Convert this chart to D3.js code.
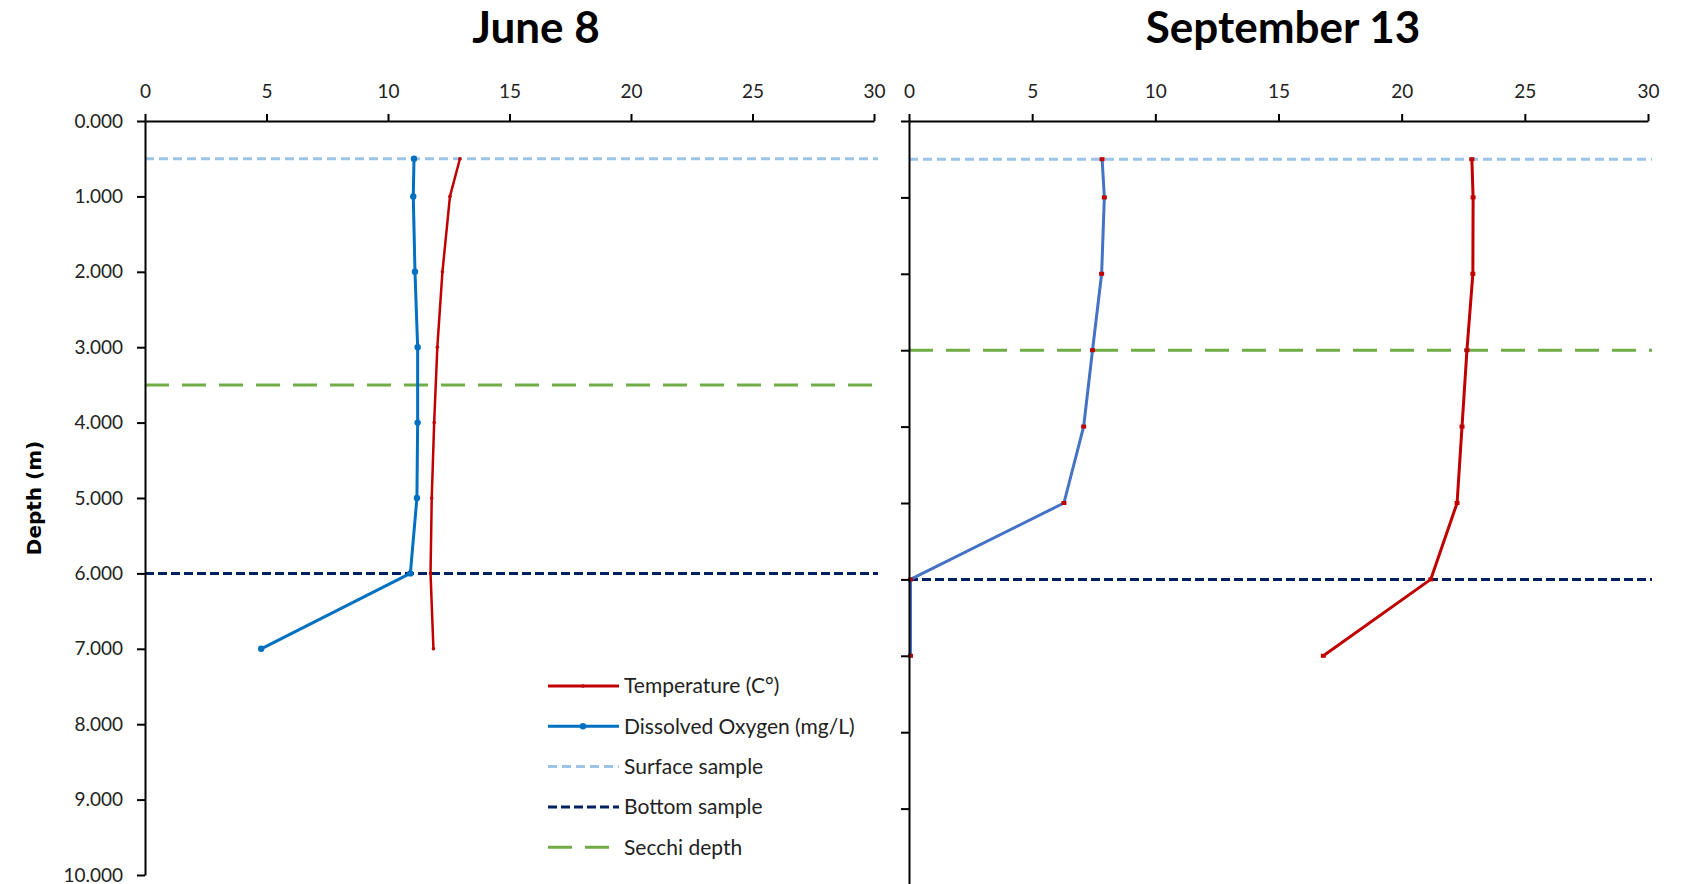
<!DOCTYPE html>
<meta charset="utf-8">
<body style="margin:0;background:#fff">
<script src="https://d3js.org/d3.v7.min.js"></script>
<script>

// depth of each sample (m)
var depths = [0.5, 1, 2, 3, 4, 5, 6, 7]

// June 8
var juneTemp = [12.96, 12.55, 12.24, 12.03, 11.9, 11.8, 11.75, 11.87]
var juneDO   = [11.07, 11.04, 11.11, 11.22, 11.22, 11.19, 10.92, 4.78]
var juneRefs = {surface: 0.5, bottom: 6.0, secchi: 3.5}

// September 13
var septTemp = [22.85, 22.9, 22.89, 22.65, 22.45, 22.25, 21.18, 16.82]
var septDO   = [7.84, 7.93, 7.82, 7.45, 7.09, 6.29, 0.06, 0.06]
var septRefs = {surface: 0.5, bottom: 6.0, secchi: 3.0}

var xTicks = [0, 5, 10, 15, 20, 25, 30]
var yTicks = [0, 1, 2, 3, 4, 5, 6, 7, 8, 9, 10]

var legendLabels = ['Temperature (C°)', 'Dissolved Oxygen (mg/L)', 'Surface sample', 'Bottom sample', 'Secchi depth']

var W = 1681, H = 884
var svg = d3.select('body').append('svg')
  .attr('width', W).attr('height', H)
  .style('display', 'block')

var refStyle = {
  surface: {c: '#9dc3e6', dash: '9,5'},
  bottom:  {c: '#002060', dash: '9,4'},
  secchi:  {c: '#70ad47', dash: '24,13'}
}

function panel(o) {
  var x = d3.scaleLinear().domain([0, 30]).range([o.x0, o.x1])
  var y = d3.scaleLinear().domain([0, 10]).range([121, o.yEnd])
  var g = svg.append('g')

  // title
  g.append('text')
    .attr('x', o.tx).attr('y', 43)
    .attr('text-anchor', 'middle')
    .attr('font-family', 'Lato').attr('font-weight', 'bold')
    .attr('font-size', 44)
    .text(o.title)

  // reference lines
  ;['surface', 'bottom', 'secchi'].forEach(k => {
    g.append('line')
      .attr('x1', x(0)).attr('x2', x(30) + 4)
      .attr('y1', y(o.refs[k])).attr('y2', y(o.refs[k]))
      .attr('stroke', refStyle[k].c)
      .attr('stroke-width', 3)
      .attr('stroke-dasharray', refStyle[k].dash)
  })

  var line = (vals) => d3.line().x((d, i) => x(vals[i])).y(d => y(d))(depths)

  // dissolved oxygen
  g.append('path').attr('d', line(o.DO))
    .attr('fill', 'none').attr('stroke', o.doColor)
    .attr('stroke-width', 3).attr('stroke-linejoin', 'round')
  // temperature
  g.append('path').attr('d', line(o.temp))
    .attr('fill', 'none').attr('stroke', '#c00000')
    .attr('stroke-width', o.tempW).attr('stroke-linejoin', 'round')

  if (o.squares) {
    [o.DO, o.temp].forEach(vals => {
      g.selectAll(null).data(depths).enter().append('rect')
        .attr('x', (d, i) => x(vals[i]) - 2.5).attr('y', d => y(d) - 2)
        .attr('width', 5).attr('height', 4)
        .attr('fill', '#c00000')
    })
  } else {
    g.selectAll(null).data(depths).enter().append('circle')
      .attr('cx', (d, i) => x(o.DO[i])).attr('cy', d => y(d))
      .attr('r', 3.2).attr('fill', o.doColor)
    g.selectAll(null).data(depths).enter().append('circle')
      .attr('cx', (d, i) => x(o.temp[i])).attr('cy', d => y(d))
      .attr('r', 1.8).attr('fill', '#c00000')
  }

  // axes
  var xa = g.append('g').attr('transform', `translate(0,${y(0)})`)
    .call(d3.axisTop(x).tickValues(xTicks).tickSize(7).tickSizeOuter(0).tickPadding(16))
  var ya = g.append('g').attr('transform', `translate(${x(0)},0)`)
    .call(d3.axisLeft(y).tickValues(yTicks).tickSize(8).tickSizeOuter(0).tickPadding(14)
      .tickFormat(o.yLabels ? d3.format('.3f') : ''))
  ;[xa, ya].forEach(a => {
    a.select('.domain').attr('stroke', '#000').attr('stroke-width', 2)
    a.selectAll('.tick line').attr('stroke', '#000').attr('stroke-width', 2)
    a.selectAll('.tick text')
      .attr('font-family', 'Lato').attr('font-size', 19).attr('fill', '#222')
  })
  return {x: x, y: y}
}

panel({
  title: 'June 8', tx: 536, x0: 145, x1: 874, yEnd: 875,
  temp: juneTemp, DO: juneDO, refs: juneRefs,
  doColor: '#0070c0', tempW: 2.5, squares: false, yLabels: true
})
panel({
  title: 'September 13', tx: 1283, x0: 909, x1: 1648, yEnd: 885,
  temp: septTemp, DO: septDO, refs: septRefs,
  doColor: '#4472c4', tempW: 3, squares: true, yLabels: false
})

// y axis title
svg.append('text')
  .attr('transform', 'translate(41,498) rotate(-90)')
  .attr('text-anchor', 'middle')
  .attr('font-family', 'DejaVu Sans').attr('font-weight', 'bold')
  .attr('font-size', 20)
  .text('Depth (m)')

// legend
var legendStyles = [
  {c: '#c00000', dash: null, dot: 1.8},
  {c: '#0070c0', dash: null, dot: 3.2},
  {c: '#9dc3e6', dash: '9,5'},
  {c: '#002060', dash: '9,4'},
  {c: '#70ad47', dash: '24,13'}
]
var lg = svg.append('g')
legendLabels.forEach((t, i) => {
  var ly = 686 + i * 40.3
  var s = legendStyles[i]
  lg.append('line')
    .attr('x1', 548).attr('x2', 619).attr('y1', ly).attr('y2', ly)
    .attr('stroke', s.c).attr('stroke-width', 3)
    .attr('stroke-dasharray', s.dash)
  if (s.dot) lg.append('circle').attr('cx', 583).attr('cy', ly).attr('r', s.dot).attr('fill', s.c)
  lg.append('text')
    .attr('x', 624).attr('y', ly).attr('dy', '0.35em')
    .attr('font-family', 'Lato').attr('font-size', 21).attr('fill', '#222')
    .text(t)
})
</script>
</body>
